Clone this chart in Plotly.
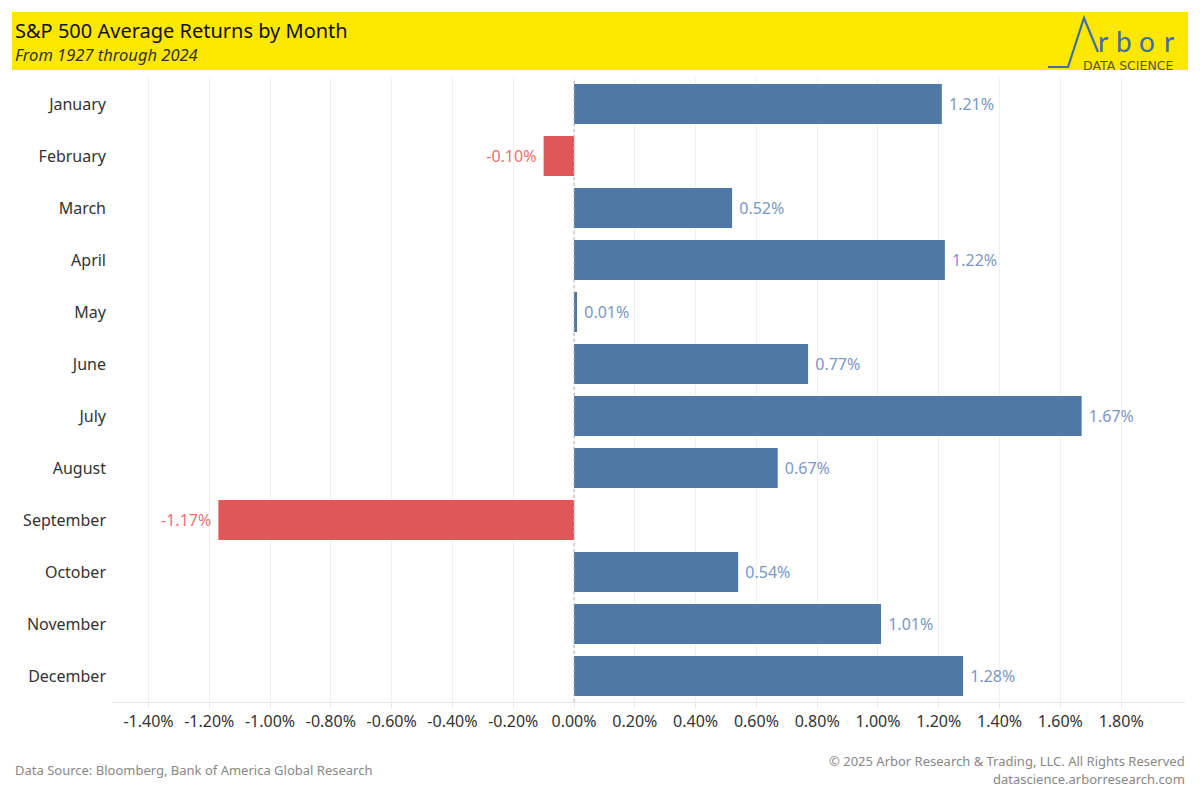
import plotly.graph_objects as go

months = ["January", "February", "March", "April", "May", "June", "July",
          "August", "September", "October", "November", "December"]
returns = [1.21, -0.10, 0.52, 1.22, 0.01, 0.77, 1.67, 0.67, -1.17, 0.54, 1.01, 1.28]
tick_vals = [-1.4, -1.2, -1.0, -0.8, -0.6, -0.4, -0.2, 0.0, 0.2, 0.4, 0.6, 0.8, 1.0, 1.2, 1.4, 1.6, 1.8]
tick_text = ["%.2f%%" % v for v in tick_vals]

BLUE = "#4e79a7"
RED = "#e15759"
BLUE_TXT = "#7b97c4"
RED_TXT = "#ec7070"

W, H = 1200, 800
L, R, T, B = 112, 15, 78, 98
PW, PH = W - L - R, H - T - B

def px(x):
    return (x - L) / PW

def py(y):
    return (H - B - y) / PH

FONT = "Noto Sans"

bar_colors = [BLUE if v >= 0 else RED for v in returns]
txt_colors = [BLUE_TXT if v >= 0 else RED_TXT for v in returns]
labels = [(" %.2f%%" % v) if v >= 0 else ("%.2f%% " % v) for v in returns]

fig = go.Figure()
fig.add_trace(go.Bar(
    y=months, x=returns, orientation="h",
    marker=dict(color=bar_colors, line=dict(width=0)),
    text=labels,
    textposition="outside",
    textfont=dict(color=txt_colors, size=16, family=FONT),
    cliponaxis=False,
    hoverinfo="skip",
))

shapes = [
    dict(type="rect", xref="paper", yref="paper", x0=px(12), x1=px(1188), y0=py(70), y1=py(12),
         fillcolor="#ffe800", line=dict(width=0), layer="below"),
    dict(type="line", xref="x", yref="paper", x0=0, x1=0, y0=0, y1=1,
         line=dict(color="#b0b0b0", width=1, dash="dot"), layer="above"),
    dict(type="path", xref="paper", yref="paper",
         path="M %f,%f L %f,%f L %f,%f L %f,%f" % (px(1048), py(67), px(1068), py(67),
                                                 px(1084), py(18), px(1098), py(52)),
         line=dict(color="#3f6fa8", width=2.2)),
]

annotations = [
    dict(text="S&P 500 Average Returns by Month", xref="paper", yref="paper",
         x=px(13), y=py(30), xanchor="left", yanchor="middle", showarrow=False,
         font=dict(size=20, color="#111111", family=FONT)),
    dict(text="<i>From 1927 through 2024</i>", xref="paper", yref="paper",
         x=px(13), y=py(55), xanchor="left", yanchor="middle", showarrow=False,
         font=dict(size=16.5, color="#333333", family=FONT)),
    dict(text="DATA SCIENCE", xref="paper", yref="paper",
         x=px(1176), y=py(65), xanchor="right", yanchor="middle", showarrow=False,
         font=dict(size=12.5, color="#5a5640", family="DejaVu Sans")),
    dict(text="Data Source: Bloomberg, Bank of America Global Research", xref="paper", yref="paper",
         x=px(13), y=py(770), xanchor="left", yanchor="middle", showarrow=False,
         font=dict(size=13, color="#888888", family=FONT)),
    dict(text="© 2025 Arbor Research & Trading, LLC. All Rights Reserved", xref="paper", yref="paper",
         x=px(1187), y=py(761), xanchor="right", yanchor="middle", showarrow=False,
         font=dict(size=13, color="#888888", family=FONT)),
    dict(text="datascience.arborresearch.com", xref="paper", yref="paper",
         x=px(1187), y=py(779), xanchor="right", yanchor="middle", showarrow=False,
         font=dict(size=13, color="#888888", family=FONT)),
]

# logo letters "rbor", spaced like the wide logo typeface
for ch, cx in zip("rbor", [1103, 1124, 1147, 1169]):
    annotations.append(dict(text=ch, xref="paper", yref="paper",
                            x=px(cx), y=py(41), xanchor="center", yanchor="middle",
                            showarrow=False,
                            font=dict(size=28, color="#3f6fa8", family="Lato")))

fig.update_layout(
    width=W, height=H,
    margin=dict(l=L, r=R, t=T, b=B, pad=0),
    paper_bgcolor="white", plot_bgcolor="white",
    showlegend=False,
    bargap=0.23,
    shapes=shapes,
    annotations=annotations,
    font=dict(family=FONT, color="#333333"),
    xaxis=dict(
        range=[-1.52, 2.01], tickvals=tick_vals, ticktext=tick_text,
        showgrid=True, gridcolor="#f0f0f0", gridwidth=1,
        zeroline=False, showline=True, linecolor="#e6e6e6", linewidth=1,
        ticks="outside", ticklen=5, tickcolor="#e6e6e6",
        tickfont=dict(size=16, color="#333333", family=FONT),
        fixedrange=True,
    ),
    yaxis=dict(
        categoryorder="array", categoryarray=months, autorange="reversed",
        showgrid=False, zeroline=False, showline=False, ticks="",
        ticklabelstandoff=5,
        tickfont=dict(size=16, color="#333333", family=FONT),
        fixedrange=True,
    ),
)

fig.write_html("out.html", config={"displayModeBar": False},
               post_script="document.body.style.margin='0';")
